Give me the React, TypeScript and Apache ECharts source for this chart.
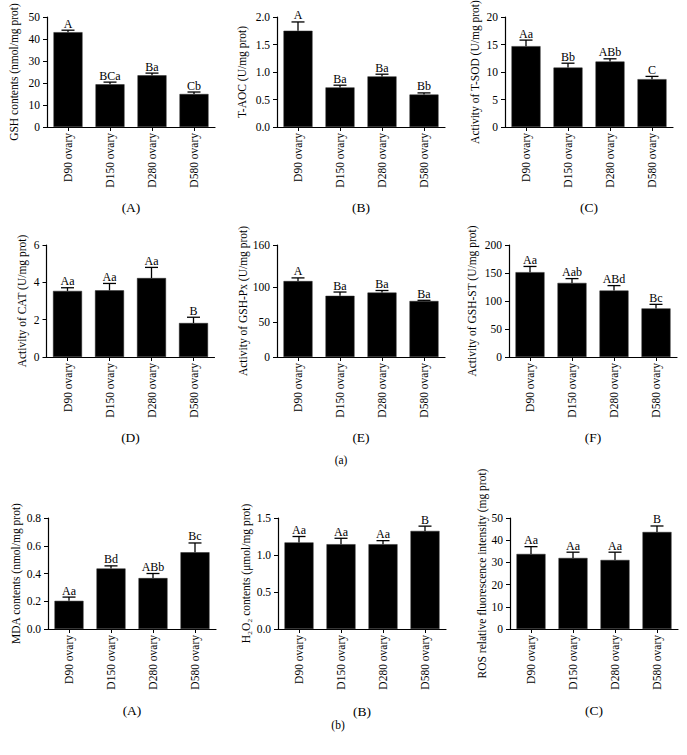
import React, { useEffect, useRef } from "react";
import * as echarts from "echarts";

const categories = ["D90 ovary", "D150 ovary", "D280 ovary", "D580 ovary"];

const gshMean = [43.1, 19.4, 23.5, 15.0];
const gshUpper = [44.0, 20.4, 24.5, 15.9];
const gshLetters = ["A", "BCa", "Ba", "Cb"];

const taocMean = [1.75, 0.72, 0.92, 0.59];
const taocUpper = [1.91, 0.76, 0.96, 0.62];
const taocLetters = ["A", "Ba", "Ba", "Bb"];

const tsodMean = [14.7, 10.8, 11.9, 8.7];
const tsodUpper = [15.8, 11.6, 12.4, 9.2];
const tsodLetters = ["Aa", "Bb", "ABb", "C"];

const catMean = [3.54, 3.57, 4.23, 1.82];
const catUpper = [3.71, 3.94, 4.8, 2.13];
const catLetters = ["Aa", "Aa", "Aa", "B"];

const gshpxMean = [108.5, 87.4, 92.0, 80.0];
const gshpxUpper = [113.0, 92.8, 95.0, 81.0];
const gshpxLetters = ["A", "Ba", "Ba", "Ba"];

const gshstMean = [151.5, 132.3, 118.6, 86.8];
const gshstUpper = [161.7, 140.0, 127.5, 94.0];
const gshstLetters = ["Aa", "Aab", "ABd", "Bc"];

const mdaMean = [0.203, 0.436, 0.367, 0.553];
const mdaUpper = [0.23, 0.455, 0.4, 0.62];
const mdaLetters = ["Aa", "Bd", "ABb", "Bc"];

const h2o2Mean = [1.17, 1.146, 1.146, 1.325];
const h2o2Upper = [1.25, 1.226, 1.194, 1.39];
const h2o2Letters = ["Aa", "Aa", "Aa", "B"];

const rosMean = [33.8, 32.0, 31.1, 43.7];
const rosUpper = [37.1, 34.6, 34.6, 46.4];
const rosLetters = ["Aa", "Aa", "Aa", "B"];

const panelNames = [
  "GSH contents (nmol/mg prot)",
  "T-AOC (U/mg prot)",
  "Activity of T-SOD (U/mg prot)",
  "Activity of CAT (U/mg prot)",
  "Activity of GSH-Px (U/mg prot)",
  "Activity of GSH-ST (U/mg prot)",
  "MDA contents (nmol/mg prot)",
  "H\u2082O\u2082 contents (\u03bcmol/mg prot)",
  "ROS relative fluorescence intensity (mg prot)",
];
const panelTags = ["(A)", "(B)", "(C)", "(D)", "(E)", "(F)", "(A)", "(B)", "(C)"];
const groupTags = ["(a)", "(b)"];

const yMax = [50, 2.0, 20, 6, 160, 200, 0.8, 1.5, 50];
const yInterval = [10, 0.5, 5, 2, 50, 50, 0.2, 0.5, 10];
const yDecimals = [0, 1, 0, 0, 0, 0, 1, 1, 0];
const gshpxTicks = [0, 50, 100, 160];

const panelData = [
  [gshMean, gshUpper, gshLetters],
  [taocMean, taocUpper, taocLetters],
  [tsodMean, tsodUpper, tsodLetters],
  [catMean, catUpper, catLetters],
  [gshpxMean, gshpxUpper, gshpxLetters],
  [gshstMean, gshstUpper, gshstLetters],
  [mdaMean, mdaUpper, mdaLetters],
  [h2o2Mean, h2o2Upper, h2o2Letters],
  [rosMean, rosUpper, rosLetters],
] as const;

// layout (pixels)
const gridBoxes = [
  { left: 47, top: 17, width: 168, height: 110 },
  { left: 277, top: 17, width: 168, height: 110 },
  { left: 505, top: 17, width: 168, height: 110 },
  { left: 46.5, top: 245, width: 168, height: 112 },
  { left: 277, top: 245, width: 168, height: 112 },
  { left: 509, top: 245, width: 168, height: 112 },
  { left: 48, top: 518, width: 168, height: 111 },
  { left: 278, top: 518, width: 168, height: 111 },
  { left: 510, top: 518, width: 168, height: 111 },
];
const nameGaps = [27, 29, 24, 19, 27, 31, 26, 26, 21];
const tagY = [207, 207, 207, 437, 437, 437, 710, 711, 710];
const groupTagPos = [
  { x: 341, y: 460 },
  { x: 338, y: 725 },
];

const FONT = '"Liberation Serif", "Times New Roman", serif';
const INK = "#000";

export default function App() {
  const ref = useRef<HTMLDivElement>(null);

  useEffect(() => {
    if (!ref.current) return;
    const chart = echarts.init(ref.current, undefined, { renderer: "svg" });

    const grids: any[] = [];
    const xAxes: any[] = [];
    const yAxes: any[] = [];
    const series: any[] = [];
    const graphics: any[] = [];

    panelData.forEach((pd, i) => {
      const [means, uppers, letters] = pd as any;
      const box = gridBoxes[i];
      grids.push({ ...box, containLabel: false, outerBoundsMode: "none" });
      xAxes.push({
        type: "category",
        gridIndex: i,
        data: categories,
        axisLine: { show: true, lineStyle: { color: "#000", width: 1.2 } },
        axisTick: { show: true, alignWithLabel: true, length: 4, lineStyle: { color: "#000" } },
        axisLabel: {
          rotate: 90,
          interval: 0,
          margin: 6,
          fontFamily: FONT,
          fontSize: 11.5,
          color: INK,
        },
      });
      const yAxis: any = {
        type: "value",
        gridIndex: i,
        min: 0,
        max: yMax[i],
        interval: yInterval[i],
        name: panelNames[i],
        nameLocation: "middle",
        nameGap: nameGaps[i],
        nameTextStyle: { fontFamily: FONT, fontSize: 11.5, color: INK },
        splitLine: { show: false },
        axisLine: { show: true, lineStyle: { color: "#000", width: 1.2 } },
        axisTick: { show: true, length: 4, lineStyle: { color: "#000" } },
        axisLabel: {
          margin: 7,
          fontFamily: FONT,
          fontSize: 11.5,
          color: INK,
          formatter: (v: number) => v.toFixed(yDecimals[i]),
        },
      };
      if (i === 4) {
        yAxis.axisLabel.customValues = gshpxTicks;
        yAxis.axisTick.customValues = gshpxTicks;
      }
      yAxes.push(yAxis);

      series.push({
        type: "bar",
        xAxisIndex: i,
        yAxisIndex: i,
        data: means,
        barWidth: 29,
        itemStyle: { color: "#000", borderColor: "#2a2a2a", borderWidth: 0.5 },
      });
      series.push({
        type: "custom",
        xAxisIndex: i,
        yAxisIndex: i,
        z: 5,
        clip: false,
        data: means.map((m: number, k: number) => [k, m, uppers[k]]),
        encode: { x: 0, y: [1, 2] },
        renderItem: (params: any, api: any) => {
          const k = api.value(0);
          const p0 = api.coord([k, api.value(1)]);
          const p1 = api.coord([k, api.value(2)]);
          return {
            type: "group",
            children: [
              {
                type: "line",
                shape: { x1: p0[0], y1: p0[1], x2: p1[0], y2: p1[1] },
                style: { stroke: "#000", lineWidth: 1.3 },
              },
              {
                type: "line",
                shape: { x1: p1[0] - 6.5, y1: p1[1], x2: p1[0] + 6.5, y2: p1[1] },
                style: { stroke: "#000", lineWidth: 1.3 },
              },
              {
                type: "text",
                x: p1[0],
                y: p1[1] - 0.5,
                style: {
                  text: letters[params.dataIndex],
                  fill: INK,
                  font: `12px ${FONT}`,
                  align: "center",
                  verticalAlign: "bottom",
                },
              },
            ],
          };
        },
      });

      graphics.push({
        type: "text",
        x: box.left + box.width / 2,
        y: tagY[i],
        style: {
          text: panelTags[i],
          fill: INK,
          font: `13.5px ${FONT}`,
          align: "center",
          verticalAlign: "middle",
        },
      });
    });

    groupTags.forEach((t, j) => {
      graphics.push({
        type: "text",
        x: groupTagPos[j].x,
        y: groupTagPos[j].y,
        style: { text: t, fill: INK, font: `11.5px ${FONT}`, align: "center", verticalAlign: "middle" },
      });
    });

    chart.setOption({
      animation: false,
      backgroundColor: "#fff",
      grid: grids,
      xAxis: xAxes,
      yAxis: yAxes,
      series,
      graphic: graphics,
    });

    return () => chart.dispose();
  }, []);

  return (
    <div
      ref={ref}
      style={{ position: "absolute", left: 0, top: 0, width: 687, height: 755, background: "#fff" }}
    />
  );
}
